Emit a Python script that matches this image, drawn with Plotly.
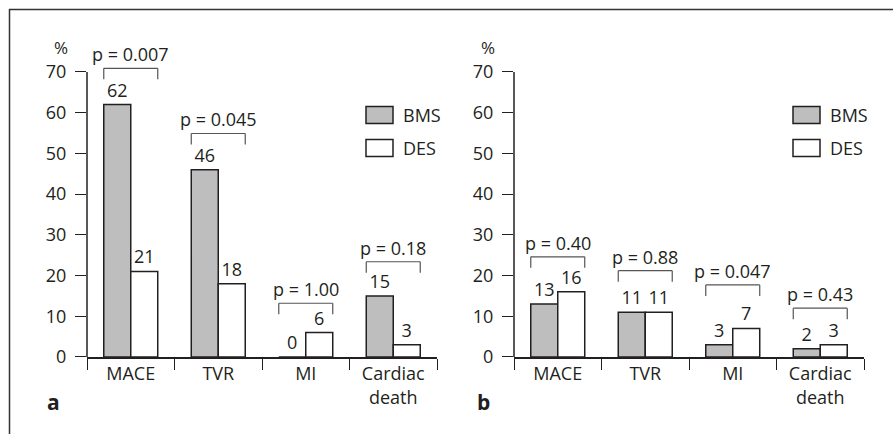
import plotly.graph_objects as go

categories = ["MACE", "TVR", "MI", "Cardiac<br>death"]
bms_a = [62, 46, 0, 15]
des_a = [21, 18, 6, 3]
bms_b = [13, 11, 3, 2]
des_b = [16, 11, 7, 3]
p_a = ["p = 0.007", "p = 0.045", "p = 1.00", "p = 0.18"]
p_b = ["p = 0.40", "p = 0.88", "p = 0.047", "p = 0.43"]
bracket_a = [70.9, 54.9, 13.2, 23.4]
bracket_b = [24.6, 21.2, 17.7, 12.0]
y_ticks = [0, 10, 20, 30, 40, 50, 60, 70]
series_names = ["BMS", "DES"]

W, H = 893, 434
INK = "#231f20"
GREY = "#bebebe"
FONT = "Open Sans"
FS = 18

def px(x):
    return x / W

def py(y):
    return 1 - y / H

fig = go.Figure()

panels = [
    dict(bms=bms_a, des=des_a, p=p_a, br=bracket_a, xa="x", ya="y",
         dom=[px(87), px(437)], legx=366, pct=61, lab="a", labx=53),
    dict(bms=bms_b, des=des_b, p=p_b, br=bracket_b, xa="x2", ya="y2",
         dom=[px(514), px(864)], legx=793, pct=488, lab="b", labx=483),
]

BARGAP = 0.383
half = (1 - BARGAP) / 2
leg_units = 2.7
ydom = [py(357), py(357 - 80 * (285 / 70))]

shapes = []
annotations = []

for k, pn in enumerate(panels):
    for name, vals, col in [(series_names[0], pn["bms"], GREY), (series_names[1], pn["des"], "white")]:
        fig.add_trace(go.Bar(
            x=categories, y=vals, name=name, xaxis=pn["xa"], yaxis=pn["ya"],
            marker=dict(color=col, line=dict(color=INK, width=1.5)),
            text=[str(v) for v in vals], textposition="outside",
            textfont=dict(family=FONT, size=FS, color=INK),
            constraintext="none", cliponaxis=False, showlegend=False,
            hoverinfo="skip",
        ))
    xr = pn["xa"]
    yr = pn["ya"]
    # y axis line from 0 to 70
    shapes.append(dict(type="line", xref=xr + " domain", yref=yr, x0=0, x1=0,
                       y0=0, y1=y_ticks[-1], line=dict(color=INK, width=1.5)))
    for i, (ptxt, lvl) in enumerate(zip(pn["p"], pn["br"])):
        x0, x1 = i - half, i + half
        for (a0, b0, a1, b1) in [(x0, lvl - leg_units, x0, lvl), (x0, lvl, x1, lvl), (x1, lvl, x1, lvl - leg_units)]:
            shapes.append(dict(type="line", xref=xr, yref=yr, x0=a0, y0=b0, x1=a1, y1=b1,
                               line=dict(color="#555555", width=1.2)))
        annotations.append(dict(x=i, y=lvl, xref=xr, yref=yr, text=ptxt, showarrow=False,
                                xanchor="center", yanchor="bottom",
                                font=dict(family=FONT, size=FS, color=INK)))
    # legend
    for j, (name, col) in enumerate([(series_names[0], GREY), (series_names[1], "white")]):
        yc = 115 + j * 33
        shapes.append(dict(type="rect", xref="paper", yref="paper",
                           x0=px(pn["legx"]), x1=px(pn["legx"] + 27),
                           y0=py(yc - 8.5), y1=py(yc + 8.5),
                           fillcolor=col, line=dict(color=INK, width=1.5)))
        annotations.append(dict(x=px(pn["legx"] + 35), y=py(yc), xref="paper", yref="paper",
                                text=name, showarrow=False, xanchor="left", yanchor="middle",
                                font=dict(family=FONT, size=FS, color=INK)))
    annotations.append(dict(x=px(pn["pct"]), y=py(47), xref="paper", yref="paper", text="%",
                            showarrow=False, xanchor="center", yanchor="middle",
                            font=dict(family=FONT, size=FS - 1, color=INK)))
    annotations.append(dict(x=px(pn["labx"]), y=py(402), xref="paper", yref="paper",
                            text="<b>" + pn["lab"] + "</b>", showarrow=False,
                            xanchor="center", yanchor="middle",
                            font=dict(family=FONT, size=21, color=INK)))

# outer frame (top and left)
shapes.append(dict(type="line", xref="paper", yref="paper", x0=px(9), x1=1, y0=py(9.5), y1=py(9.5),
                   line=dict(color="#333333", width=1.5)))
shapes.append(dict(type="line", xref="paper", yref="paper", x0=px(9.5), x1=px(9.5), y0=py(9), y1=0,
                   line=dict(color="#333333", width=1.5)))

xax = dict(type="category", range=[-0.5, 3.5], showline=True, linecolor=INK, linewidth=1.5,
           ticks="outside", tickson="boundaries", ticklen=11, tickwidth=1.3, tickcolor=INK,
           showgrid=False, zeroline=False, tickfont=dict(family=FONT, size=FS, color=INK),
           fixedrange=True, automargin=False)
yax = dict(range=[0, 80], tickvals=y_ticks, ticks="outside", ticklen=11, tickwidth=1.3,
           tickcolor=INK, showline=False, showgrid=False, zeroline=False,
           tickfont=dict(family=FONT, size=FS, color=INK), domain=ydom, fixedrange=True,
           automargin=False, ticklabelstandoff=5)

fig.update_layout(
    width=W, height=H, margin=dict(l=0, r=0, t=0, b=0, autoexpand=False),
    paper_bgcolor="white", plot_bgcolor="white",
    barmode="group", bargap=BARGAP, bargroupgap=0,
    xaxis=dict(xax, domain=panels[0]["dom"], anchor="y"),
    yaxis=dict(yax, anchor="x"),
    xaxis2=dict(xax, domain=panels[1]["dom"], anchor="y2"),
    yaxis2=dict(yax, anchor="x2"),
    shapes=shapes, annotations=annotations, showlegend=False,
)

fig.write_html("out.html", config={"displayModeBar": False},
               post_script="document.body.style.margin='0';document.body.style.overflow='hidden';")
